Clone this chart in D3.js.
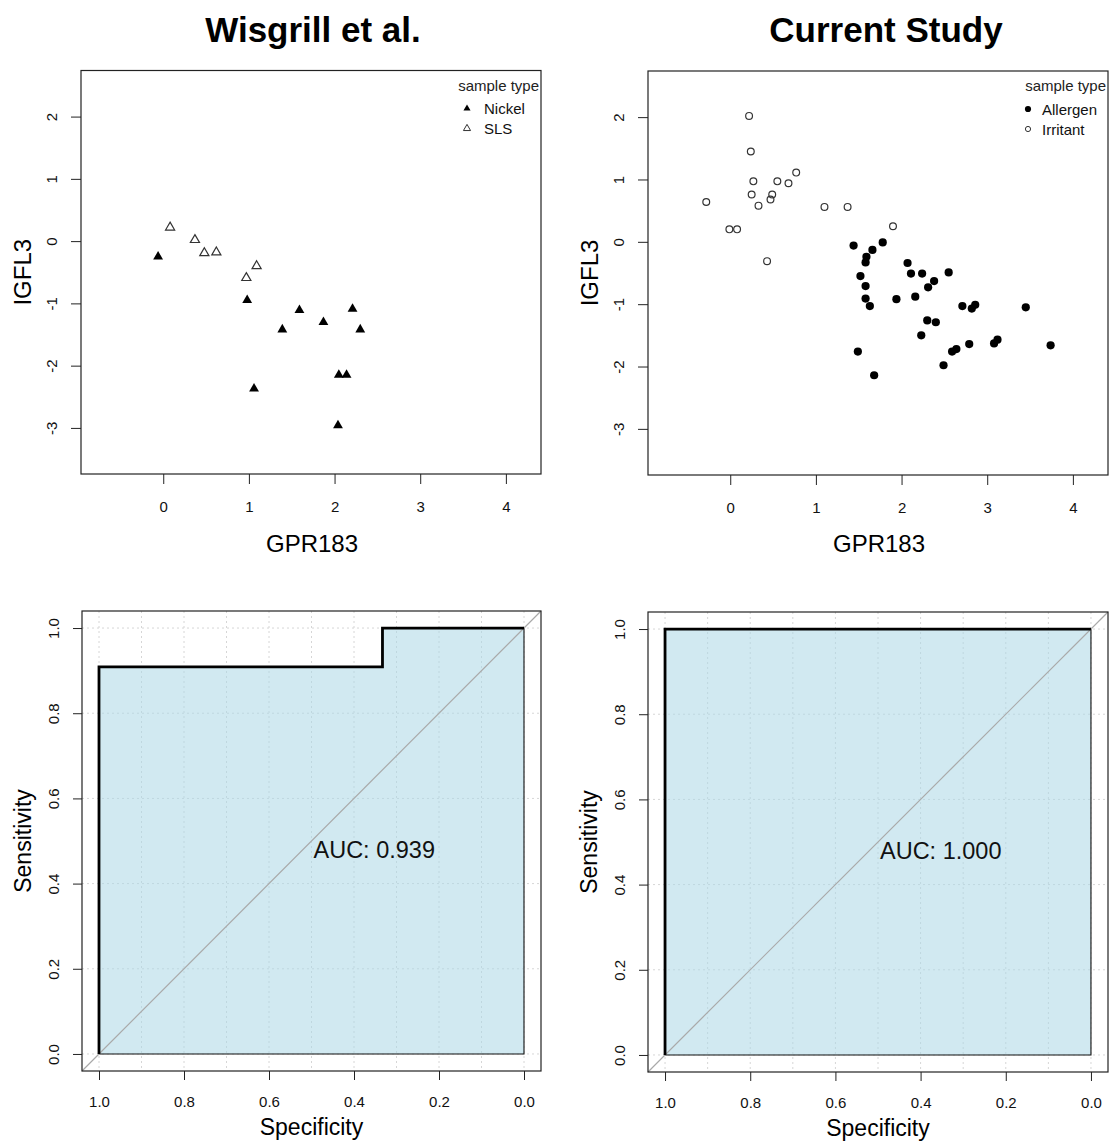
<!DOCTYPE html>
<html><head><meta charset="utf-8">
<script src="https://cdn.jsdelivr.net/npm/d3@7"></script>
<style>body{margin:0;background:#fff}svg{display:block}</style>
</head><body>
<svg id="c" width="1109" height="1142"></svg>
<script>
// ---------------- data ----------------
// Wisgrill et al. (GPR183 vs IGFL3)
const nickelX = [-0.06, 0.98, 1.59, 1.39, 1.87, 2.21, 2.30, 2.05, 2.14, 1.06, 2.04];
const nickelY = [-0.25, -0.95, -1.11, -1.42, -1.30, -1.09, -1.42, -2.15, -2.15, -2.37, -2.96];
const slsX = [0.08, 0.37, 0.48, 0.62, 1.09, 0.97];
const slsY = [0.22, 0.02, -0.19, -0.18, -0.40, -0.59];
// Current Study
const irritantX = [0.22, 0.24, 0.27, 0.55, 0.68, 0.77, 0.25, 0.49, 0.47, 0.33, -0.28, 1.10, 1.37, 1.90, -0.01, 0.08, 0.43];
const irritantY = [2.02, 1.45, 0.97, 0.97, 0.94, 1.11, 0.76, 0.76, 0.68, 0.58, 0.64, 0.56, 0.56, 0.25, 0.20, 0.20, -0.31];
const allergenX = [1.44, 1.66, 1.78, 1.59, 1.58, 2.07, 2.11, 2.24, 2.55, 1.52, 2.38, 2.31, 1.58, 2.16, 1.94, 1.58, 1.63, 2.71, 2.82, 2.86, 3.45, 2.30, 2.40, 2.23, 2.79, 3.08, 3.12, 3.74, 2.59, 2.64, 1.49, 2.49, 1.68];
const allergenY = [-0.06, -0.13, -0.01, -0.24, -0.33, -0.34, -0.51, -0.51, -0.49, -0.55, -0.63, -0.73, -0.71, -0.88, -0.92, -0.91, -1.03, -1.03, -1.07, -1.01, -1.05, -1.26, -1.29, -1.50, -1.64, -1.63, -1.57, -1.66, -1.76, -1.72, -1.76, -1.98, -2.14];

const scatterXDomain = [-0.96, 4.41];
const scatterYDomain = [-3.74, 2.74];
const scatterXTicks = [0, 1, 2, 3, 4];
const scatterYTicks = [-3, -2, -1, 0, 1, 2];

// ROC curves (specificity, sensitivity)
const rocSpecWis = [1, 1, 0.333, 0.333, 0];
const rocSensWis = [0, 0.909, 0.909, 1, 1];
const rocSpecCur = [1, 1, 0];
const rocSensCur = [0, 1, 1];
const aucWis = "AUC: 0.939";
const aucCur = "AUC: 1.000";
const rocTicks = [0, 0.2, 0.4, 0.6, 0.8, 1.0];
const rocGridX = [0, 0.1, 0.2, 0.3, 0.4, 0.5, 0.6, 0.7, 0.8, 0.9, 1.0];
const rocGridY = [0, 0.2, 0.4, 0.6, 0.8, 1.0];

// ---------------- drawing ----------------
const FONT = '"Liberation Sans", Arial, Helvetica, sans-serif';
const svg = d3.select("#c").attr("font-family", FONT);

function styleAxis(a) {
  a.attr("font-size", 15).attr("font-family", FONT);
  a.select(".domain").remove();
  a.selectAll(".tick line").attr("stroke", "#222").attr("stroke-width", 1);
  a.selectAll(".tick text").attr("fill", "#111");
}

function yAxisRot(a, off) {
  a.selectAll(".tick text")
    .attr("x", 0).attr("dy", "0.36em")
    .attr("text-anchor", "middle")
    .attr("transform", `translate(${-off},0) rotate(-90)`);
}

function scatterPanel(o) {
  const g = svg.append("g");
  const x = d3.scaleLinear().domain(scatterXDomain).range([o.x0, o.x1]);
  const y = d3.scaleLinear().domain(scatterYDomain).range([o.y1, o.y0]);

  g.append("text").attr("x", o.titleX).attr("y", 42).attr("text-anchor", "middle")
    .attr("font-size", 35).attr("font-weight", "bold").attr("fill", "#000").text(o.title);

  const xa = g.append("g").attr("transform", `translate(0,${o.y1})`)
    .call(d3.axisBottom(x).tickValues(scatterXTicks).tickSize(10).tickSizeOuter(0).tickFormat(d => String(d)));
  styleAxis(xa);
  xa.selectAll(".tick text").attr("y", 27).attr("dy", "0.71em");

  const ya = g.append("g").attr("transform", `translate(${o.x0},0)`)
    .call(d3.axisLeft(y).tickValues(scatterYTicks).tickSize(10).tickSizeOuter(0).tickFormat(d => String(d)));
  styleAxis(ya);
  yAxisRot(ya, 29);

  g.append("text").attr("x", (o.x0 + o.x1) / 2 + 1).attr("y", 552).attr("text-anchor", "middle")
    .attr("font-size", 24).text("GPR183");
  g.append("text").attr("transform", `translate(${o.x0 - 50},${(o.y0 + o.y1) / 2}) rotate(-90)`)
    .attr("text-anchor", "middle").attr("font-size", 24).text("IGFL3");

  g.append("rect").attr("x", o.x0).attr("y", o.y0).attr("width", o.x1 - o.x0).attr("height", o.y1 - o.y0)
    .attr("fill", "none").attr("stroke", "#222").attr("stroke-width", 1.2);

  o.series.forEach(s => {
    const pts = s.xs.map((v, i) => [v, s.ys[i]]);
    if (s.shape === "tri") {
      const sym = d3.symbol().type(d3.symbolTriangle).size(s.filled ? 42 : 36);
      g.selectAll(null).data(pts).enter().append("path")
        .attr("d", sym).attr("transform", d => `translate(${x(d[0])},${y(d[1])})`)
        .attr("fill", s.filled ? "#000" : "none").attr("stroke", s.filled ? "none" : "#333").attr("stroke-width", 1.2);
    } else {
      g.selectAll(null).data(pts).enter().append("circle")
        .attr("cx", d => x(d[0])).attr("cy", d => y(d[1]))
        .attr("r", s.filled ? 4.1 : 3.4)
        .attr("fill", s.filled ? "#000" : "none").attr("stroke", s.filled ? "none" : "#333").attr("stroke-width", 1.2);
    }
  });

  // legend
  const lg = g.append("g");
  lg.append("text").attr("x", o.x1 - 2).attr("y", o.y0 + 20).attr("text-anchor", "end")
    .attr("font-size", 15).attr("fill", "#222").text("sample type");
  o.series.forEach((s, i) => {
    const by = o.y0 + 43.5 + i * 20;
    lg.append("text").attr("x", o.x1 - o.legText).attr("y", by).attr("font-size", 15).attr("fill", "#111").text(s.name);
    const sx = o.x1 - o.legSym, sy = by - 5.5;
    if (s.shape === "tri") {
      lg.append("path").attr("d", d3.symbol().type(d3.symbolTriangle).size(22))
        .attr("transform", `translate(${sx},${sy})`)
        .attr("fill", s.filled ? "#000" : "none").attr("stroke", s.filled ? "none" : "#333").attr("stroke-width", 1);
    } else {
      lg.append("circle").attr("cx", sx).attr("cy", sy).attr("r", s.filled ? 3.1 : 2.6)
        .attr("fill", s.filled ? "#000" : "none").attr("stroke", s.filled ? "none" : "#333").attr("stroke-width", 1);
    }
  });
}

function rocPanel(o) {
  const g = svg.append("g");
  const x = d3.scaleLinear().domain([1.04, -0.04]).range([o.x0, o.x1]);
  const y = d3.scaleLinear().domain([-0.04, 1.04]).range([o.y1, o.y0]);

  g.selectAll(null).data(rocGridX).enter().append("line")
    .attr("x1", d => x(d)).attr("x2", d => x(d)).attr("y1", o.y0).attr("y2", o.y1)
    .attr("stroke", "#d6d6d6").attr("stroke-dasharray", "2,3");
  g.selectAll(null).data(rocGridY).enter().append("line")
    .attr("y1", d => y(d)).attr("y2", d => y(d)).attr("x1", o.x0).attr("x2", o.x1)
    .attr("stroke", "#d6d6d6").attr("stroke-dasharray", "2,3");

  const curve = o.spec.map((s, i) => [s, o.sens[i]]);
  const poly = curve.concat([[0, 0]]);
  g.append("path").attr("d", d3.line().x(d => x(d[0])).y(d => y(d[1]))(poly) + "Z")
    .attr("fill", "#add8e6").attr("fill-opacity", 0.56).attr("stroke", "#111").attr("stroke-width", 1.1);

  g.append("line").attr("x1", x(1.04)).attr("y1", y(-0.04)).attr("x2", x(-0.04)).attr("y2", y(1.04))
    .attr("stroke", "#a9a9a9").attr("stroke-width", 1.2);

  g.append("path").attr("d", d3.line().x(d => x(d[0])).y(d => y(d[1]))(curve))
    .attr("fill", "none").attr("stroke", "#000").attr("stroke-width", 2.8);

  g.append("rect").attr("x", o.x0).attr("y", o.y0).attr("width", o.x1 - o.x0).attr("height", o.y1 - o.y0)
    .attr("fill", "none").attr("stroke", "#222").attr("stroke-width", 1.2);

  const xa = g.append("g").attr("transform", `translate(0,${o.y1})`)
    .call(d3.axisBottom(x).tickValues(rocTicks).tickSize(9).tickSizeOuter(0).tickFormat(d3.format(".1f")));
  styleAxis(xa);
  xa.selectAll(".tick text").attr("y", 25.5).attr("dy", "0.71em");

  const ya = g.append("g").attr("transform", `translate(${o.x0},0)`)
    .call(d3.axisLeft(y).tickValues(rocTicks).tickSize(9).tickSizeOuter(0).tickFormat(d3.format(".1f")));
  styleAxis(ya);
  yAxisRot(ya, 28);

  g.append("text").attr("x", x(0.5) + 2).attr("y", y(0.5) + 17).attr("font-size", 23.5).attr("fill", "#111").text(o.auc);

  g.append("text").attr("x", (o.x0 + o.x1) / 2).attr("y", o.y1 + 64).attr("text-anchor", "middle")
    .attr("font-size", 23).text("Specificity");
  g.append("text").attr("transform", `translate(${o.x0 - 51},${(o.y0 + o.y1) / 2}) rotate(-90)`)
    .attr("text-anchor", "middle").attr("font-size", 23).text("Sensitivity");
}

scatterPanel({
  x0: 81, x1: 541, y0: 70.5, y1: 474, title: "Wisgrill et al.", titleX: 313,
  legText: 57, legSym: 74,
  series: [
    { name: "Nickel", xs: nickelX, ys: nickelY, shape: "tri", filled: true },
    { name: "SLS", xs: slsX, ys: slsY, shape: "tri", filled: false }
  ]
});
scatterPanel({
  x0: 648, x1: 1108, y0: 71, y1: 475, title: "Current Study", titleX: 886,
  legText: 66, legSym: 80,
  series: [
    { name: "Allergen", xs: allergenX, ys: allergenY, shape: "circle", filled: true },
    { name: "Irritant", xs: irritantX, ys: irritantY, shape: "circle", filled: false }
  ]
});
rocPanel({ x0: 82, x1: 541, y0: 611, y1: 1071, spec: rocSpecWis, sens: rocSensWis, auc: aucWis });
rocPanel({ x0: 648, x1: 1108, y0: 612, y1: 1072, spec: rocSpecCur, sens: rocSensCur, auc: aucCur });
</script>
</body></html>
